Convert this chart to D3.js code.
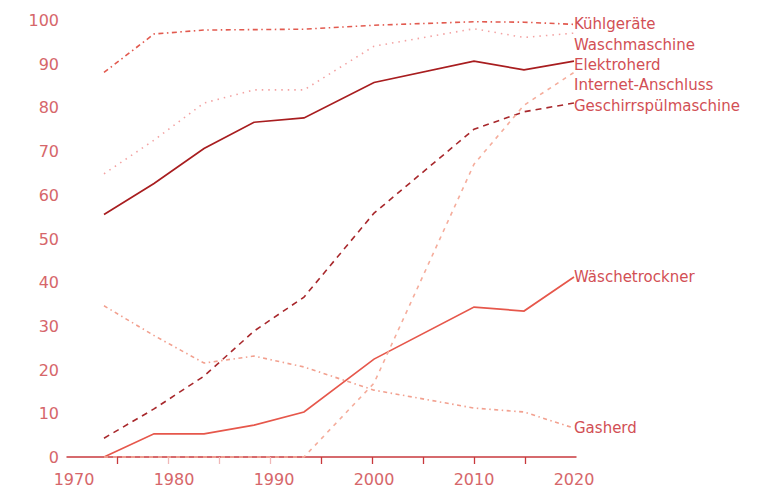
<!DOCTYPE html>
<html>
<head>
<meta charset="utf-8">
<script src="https://cdn.jsdelivr.net/npm/d3@7"></script>
<style>
  body { margin: 0; background: #fff; }
  svg text { font-family: "DejaVu Sans", sans-serif; }
</style>
</head>
<body>
<svg id="chart" width="773" height="488"></svg>
<script>
// survey years and share of households (%) per appliance
var years = [1973, 1978, 1983, 1988, 1993, 2000, 2010, 2015, 2020];
var kuehlgeraete   = [88, 96.8, 97.7, 97.8, 97.9, 98.8, 99.6, 99.5, 99.0];
var waschmaschine  = [64.8, 72.5, 81, 84, 84, 94, 98, 96, 97];
var elektroherd    = [55.5, 62.6, 70.6, 76.6, 77.6, 85.7, 90.6, 88.6, 90.6];
var internet       = [0, 0, 0, 0, 0, 16.9, 67, 80.5, 88];
var geschirrspuel  = [4.3, 11, 18.5, 28.8, 36.6, 55.8, 75, 79, 81];
var waeschetrockner= [0, 5.3, 5.3, 7.3, 10.3, 22.4, 34.3, 33.4, 41.2];
var gasherd        = [34.6, 27.8, 21.5, 23.1, 20.6, 15.3, 11.2, 10.3, 6.6];

var yTicks = [0, 10, 20, 30, 40, 50, 60, 70, 80, 90, 100];
var xLabels = [1970, 1980, 1990, 2000, 2010, 2020];
var xMinorTicks = [1975, 1980, 1985, 1990, 1995, 2000, 2005, 2010, 2015];

var series = [
  {name: "Kühlgeräte", values: kuehlgeraete, color: "#e25a4f", dash: "5,3.5,1.5,3.5"},
  {name: "Waschmaschine", values: waschmaschine, color: "#f3a3a3", dash: "1.5,5"},
  {name: "Elektroherd", values: elektroherd, color: "#a81d1f", dash: null},
  {name: "Internet-Anschluss", values: internet, color: "#f5ad9c", dash: "4,5"},
  {name: "Geschirrspülmaschine", values: geschirrspuel, color: "#a8282c", dash: "6,5"},
  {name: "Wäschetrockner", values: waeschetrockner, color: "#e6574b", dash: null},
  {name: "Gasherd", values: gasherd, color: "#f2a08f", dash: "4,3.5,1.5,3.5"}
];

var svg = d3.select("#chart");

var x = d3.scaleLinear().domain([1970, 2020]).range([74, 574]);
var xAxisScale = d3.scaleLinear().domain([1970, 2020]).range([66.5, 576.5]);
var y = d3.scaleLinear().domain([0, 100]).range([457, 20]);

var tickColor = "#d6666a";
var labelColor = "#d24f55";

// y tick labels (no axis line)
svg.append("g").selectAll("text")
  .data(yTicks)
  .join("text")
  .attr("x", 59)
  .attr("y", function(d){ return y(d) + 6; })
  .attr("text-anchor", "end")
  .attr("font-size", 16)
  .attr("fill", tickColor)
  .text(function(d){ return d; });

// x axis
var axis = svg.append("g");
axis.append("line")
  .attr("x1", xAxisScale(1970)).attr("x2", xAxisScale(2020))
  .attr("y1", y(0)).attr("y2", y(0))
  .attr("stroke", "#c8383c")
  .attr("stroke-width", 1.5);

axis.selectAll(".tick")
  .data(xMinorTicks)
  .join("line")
  .attr("class", "tick")
  .attr("x1", function(d){ return xAxisScale(d); })
  .attr("x2", function(d){ return xAxisScale(d); })
  .attr("y1", y(0)).attr("y2", y(0) + 7)
  .attr("stroke", function(d){ return (d >= 1980 && d <= 1990) ? "#f0b8b8" : "#c8383c"; })
  .attr("stroke-width", 1.3);

axis.selectAll(".xlabel")
  .data(xLabels)
  .join("text")
  .attr("class", "xlabel")
  .attr("x", function(d){ return x(d); })
  .attr("y", 485)
  .attr("text-anchor", "middle")
  .attr("font-size", 16)
  .attr("fill", tickColor)
  .text(function(d){ return d; });

// lines
var line = d3.line()
  .x(function(d, i){ return x(years[i]); })
  .y(function(d){ return y(d); });

svg.append("g").selectAll("path")
  .data(series.slice().reverse())
  .join("path")
  .attr("d", function(s){ return line(s.values); })
  .attr("fill", "none")
  .attr("stroke", function(s){ return s.color; })
  .attr("stroke-width", function(s){ return s.dash ? 1.6 : 1.7; })
  .attr("stroke-dasharray", function(s){ return s.dash; });

// end labels, pushed apart top-down so they don't overlap
var labels = series.map(function(s){
  return {name: s.name, ly: y(s.values[s.values.length - 1])};
}).sort(function(a, b){ return a.ly - b.ly; });

var gap = 20.3;
for (var i = 1; i < labels.length; i++) {
  if (labels[i].ly < labels[i-1].ly + gap) labels[i].ly = labels[i-1].ly + gap;
}

svg.append("g").selectAll("text")
  .data(labels)
  .join("text")
  .attr("x", 574)
  .attr("y", function(d){ return d.ly + 5; })
  .attr("font-size", 15)
  .attr("fill", labelColor)
  .text(function(d){ return d.name; });
</script>
</body>
</html>
